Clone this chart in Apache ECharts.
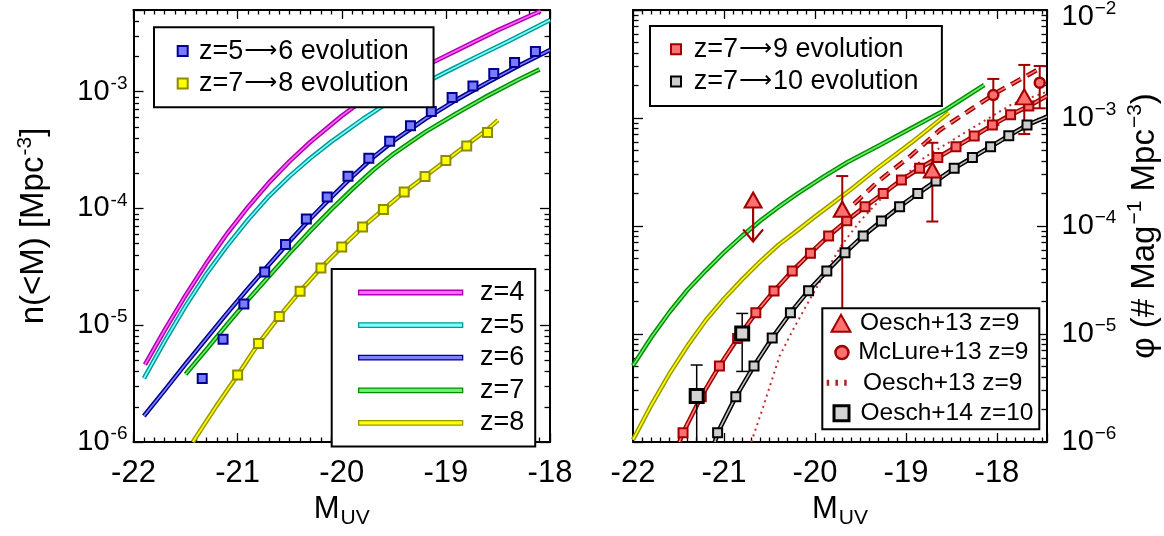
<!DOCTYPE html>
<html><head><meta charset="utf-8">
<script src="https://cdn.jsdelivr.net/npm/echarts@6/dist/echarts.min.js"></script>
<style>html,body{margin:0;padding:0;background:#fff}#c{width:1164px;height:536px}</style>
</head><body><div id="c"></div>
<script>
const FONT = '"Liberation Sans", Arial, Helvetica, sans-serif';
const ARROWFONT = '"DejaVu Sans", sans-serif';

// ---------- Left panel: n(<M) curves ----------
const mZ4 = [-21.89, -21.7, -21.5, -21.3, -21.1, -20.9, -20.7, -20.5, -20.3, -20.0, -19.8, -19.5, -19.1, -18.8, -18.5, -18.09];
const nZ4 = [4.6e-6, 9.1e-6, 1.8e-5, 3.4e-5, 6.1e-5, 1.03e-4, 1.66e-4, 2.54e-4, 3.72e-4, 6.2e-4, 8.4e-4, 1.25e-3, 1.83e-3, 2.48e-3, 3.36e-3, 4.9e-3];
const mZ5 = [-21.9, -21.7, -21.5, -21.3, -21.1, -20.9, -20.7, -20.5, -20.3, -20.1, -19.8, -19.6, -19.3, -19.0, -18.7, -18.4, -18.0];
const nZ5 = [3.5e-6, 7.3e-6, 1.46e-5, 2.75e-5, 4.8e-5, 8.0e-5, 1.27e-4, 1.89e-4, 2.7e-4, 3.73e-4, 5.8e-4, 7.6e-4, 1.07e-3, 1.47e-3, 2.0e-3, 2.7e-3, 4.1e-3];
const mZ6 = [-21.9, -21.7, -21.5, -21.3, -21.1, -20.9, -20.7, -20.5, -20.3, -20.1, -19.9, -19.7, -19.5, -19.2, -18.9, -18.6, -18.3, -18.0];
const nZ6 = [1.67e-6, 2.78e-6, 4.66e-6, 7.7e-6, 1.27e-5, 2.06e-5, 3.3e-5, 5.25e-5, 8.2e-5, 1.25e-4, 1.87e-4, 2.73e-4, 3.8e-4, 5.83e-4, 8.5e-4, 1.2e-3, 1.67e-3, 2.27e-3];
const mZ7 = [-21.5, -21.3, -21.1, -20.9, -20.7, -20.5, -20.3, -20.1, -19.9, -19.7, -19.5, -19.2, -18.9, -18.6, -18.3, -18.1];
const nZ7 = [3.8e-6, 6.2e-6, 1.02e-5, 1.65e-5, 2.62e-5, 4.15e-5, 6.45e-5, 9.8e-5, 1.46e-4, 2.12e-4, 2.95e-4, 4.5e-4, 6.5e-4, 9.2e-4, 1.27e-3, 1.55e-3];
const mZ8 = [-21.43, -21.2, -21.0, -20.8, -20.6, -20.4, -20.2, -20.0, -19.8, -19.6, -19.4, -19.2, -19.0, -18.8, -18.6, -18.5];
const nZ8 = [1.0e-6, 2.06e-6, 3.74e-6, 6.97e-6, 1.19e-5, 1.95e-5, 3.09e-5, 4.67e-5, 6.92e-5, 9.8e-5, 1.38e-4, 1.88e-4, 2.57e-4, 3.5e-4, 4.75e-4, 5.7e-4];
// evolution squares
const mEvo56 = [-21.34, -21.14, -20.94, -20.74, -20.54, -20.34, -20.14, -19.94, -19.74, -19.54, -19.34, -19.14, -18.94, -18.74, -18.54, -18.34, -18.14];
const nEvo56 = [3.5e-6, 7.6e-6, 1.52e-5, 2.86e-5, 4.92e-5, 8.1e-5, 1.25e-4, 1.89e-4, 2.69e-4, 3.76e-4, 5.1e-4, 6.75e-4, 8.9e-4, 1.12e-3, 1.43e-3, 1.78e-3, 2.21e-3];
const mEvo78 = [-21.0, -20.8, -20.6, -20.4, -20.2, -20.0, -19.8, -19.6, -19.4, -19.2, -19.0, -18.8, -18.6];
const nEvo78 = [3.74e-6, 6.97e-6, 1.19e-5, 1.95e-5, 3.09e-5, 4.67e-5, 6.92e-5, 9.8e-5, 1.38e-4, 1.88e-4, 2.57e-4, 3.43e-4, 4.46e-4];

// ---------- Right panel: phi(M) ----------
const mZ7r = [-22.0, -21.8, -21.6, -21.4, -21.2, -21.0, -20.8, -20.6, -20.4, -20.2, -19.9, -19.64, -19.3, -18.93, -18.56, -18.14];
const pZ7r = [5.1e-6, 9.3e-6, 1.59e-5, 2.57e-5, 3.87e-5, 5.7e-5, 8.1e-5, 1.12e-4, 1.5e-4, 1.97e-4, 2.88e-4, 3.92e-4, 5.54e-4, 8.15e-4, 1.2e-3, 2.02e-3];
const mZ8r = [-22.0, -21.8, -21.6, -21.4, -21.2, -21.0, -20.8, -20.6, -20.4, -20.2, -20.0, -19.8, -19.6, -19.3, -18.93, -18.53];
const pZ8r = [1.05e-6, 2.19e-6, 4.28e-6, 7.8e-6, 1.34e-5, 2.12e-5, 3.2e-5, 4.7e-5, 6.7e-5, 9.0e-5, 1.22e-4, 1.64e-4, 2.2e-4, 3.5e-4, 6.0e-4, 1.12e-3];
const mEvo79 = [-21.45, -21.25, -21.05, -20.85, -20.65, -20.45, -20.25, -20.05, -19.85, -19.65, -19.45, -19.25, -19.05, -18.85, -18.65, -18.45, -18.25, -18.05, -17.85, -17.65];
const pEvo79 = [1.22e-6, 2.63e-6, 5.06e-6, 9.1e-6, 1.57e-5, 2.5e-5, 3.83e-5, 5.6e-5, 8.1e-5, 1.12e-4, 1.51e-4, 2.0e-4, 2.67e-4, 3.42e-4, 4.3e-4, 5.42e-4, 6.8e-4, 8.6e-4, 1.07e-3, 1.29e-3];
const evo79Ends = [[-21.49, 1.0e-6], [-17.45, 1.6e-3]];
const mEvo710 = [-21.07, -20.87, -20.67, -20.47, -20.27, -20.07, -19.87, -19.67, -19.47, -19.27, -19.07, -18.87, -18.67, -18.47, -18.27, -18.07, -17.87, -17.67];
const pEvo710 = [1.22e-6, 2.63e-6, 5.06e-6, 9.2e-6, 1.57e-5, 2.52e-5, 3.83e-5, 5.66e-5, 8.1e-5, 1.11e-4, 1.51e-4, 2.0e-4, 2.61e-4, 3.42e-4, 4.3e-4, 5.42e-4, 6.85e-4, 8.6e-4];
const evo710Ends = [[-21.10, 1.0e-6], [-17.45, 1.03e-3]];
// fits
const mMcFit = [-19.57, -19.31, -18.95, -18.63, -18.3, -18.0, -17.52];
const pMcFit = [1.6e-4, 2.57e-4, 4.45e-4, 7.7e-4, 1.18e-3, 1.73e-3, 2.9e-3];
const mOeFit = [-20.70, -20.57, -20.39, -20.24, -20.10, -19.95, -19.70, -19.50, -19.30, -18.80, -18.30, -17.83, -17.45];
const pOeFit = [1.0e-6, 2.1e-6, 6.2e-6, 1.1e-5, 1.8e-5, 3.0e-5, 6.8e-5, 1.12e-4, 1.7e-4, 4.3e-4, 7.8e-4, 1.35e-3, 1.75e-3];
// observations
const mOe13 = [-19.70, -18.71, -17.70];
const pOe13 = [1.43e-4, 3.3e-4, 1.57e-3];
const loOe13 = [5.0e-6, 1.1e-4, 7.1e-4];
const hiOe13 = [2.9e-4, 5.9e-4, 3.1e-3];
const mOe13lim = [-20.68];
const pOe13lim = [1.74e-4];
const arrowTo = [7.2e-5];
const mMc13 = [-18.04, -17.53];
const pMc13 = [1.63e-3, 2.12e-3];
const loMc13 = [8.6e-4, 1.23e-3];
const hiMc13 = [2.3e-3, 3.03e-3];
const mOe14 = [-21.30, -20.80];
const pOe14 = [2.67e-6, 1.01e-5];
const loOe14 = [1.0e-7, 4.5e-6];
const hiOe14 = [5.16e-6, 1.55e-5];

const xTicksLabels = [-22, -21, -20, -19, -18];

// ---------- helpers ----------
const zip = (xs, ys) => xs.map((x, i) => [x, ys[i]]);
const zip3 = (xs, a, b) => xs.map((x, i) => [x, a[i], b[i]]);

function minorX(lo, hi) {
  const v = [];
  for (let k = 1; lo + k * 0.1 < hi - 1e-9; k++) if (k % 10) v.push(+(lo + k * 0.1).toFixed(2));
  return v;
}
function minorY(lo, hi) {
  const v = [];
  for (let e = -7; e <= -2; e++) for (let m = 2; m <= 9; m++) {
    const l = e + Math.log10(m);
    if (l > lo + 1e-9 && l < hi - 1e-9) v.push(l);
  }
  return v;
}
const tickLine = { color: '#000', width: 1.3 };

function xMajor(gi, pos, max, show) {
  return {
    type: 'value', gridIndex: gi, position: pos, min: -22, max: max, interval: 1,
    axisLine: { show: true, onZero: false, lineStyle: { color: '#000', width: 2 } },
    axisTick: { show: true, inside: true, length: 9, lineStyle: tickLine },
    minorTick: { show: false }, splitLine: { show: false },
    axisLabel: { show: show, margin: 16, color: '#000', fontSize: 31, fontFamily: FONT,
      formatter: v => xTicksLabels.indexOf(v) >= 0 ? String(v) : '' },
    name: show ? '{m|M}{u|UV}' : '', nameLocation: 'middle', nameGap: 48, nameMoveOverlap: false,
    nameTextStyle: { color: '#000', fontFamily: FONT,
      rich: { m: { fontSize: 31, fontFamily: FONT, color: '#000' },
              u: { fontSize: 21, fontFamily: FONT, color: '#000', padding: [18, 0, 0, 1] } } }
  };
}
function xMinor(gi, pos, max) {
  return {
    type: 'value', gridIndex: gi, position: pos, min: -22, max: max,
    axisLine: { show: false, onZero: false }, axisLabel: { show: false }, splitLine: { show: false },
    axisTick: { show: true, inside: true, length: 4.5, customValues: minorX(-22, max), lineStyle: tickLine }
  };
}
function logLabel(minus, topVal) {
  return v => {
    const l = Math.log10(v), e = Math.round(l);
    if (Math.abs(l - e) > 1e-6) return '';
    if (topVal && Math.abs(l - Math.log10(topVal)) < 1e-6) return '{bt|10}{st|' + minus + (-e) + '}';
    return '{b|10}{s|' + minus + (-e) + '}';
  };
}
function yMajor(gi, pos, max, show, minus, margin, name, nameGap) {
  return {
    type: 'log', logBase: 10, gridIndex: gi, position: pos, min: 1e-6, max: max,
    axisLine: { show: true, onZero: false, lineStyle: { color: '#000', width: 2 } },
    axisTick: { show: true, inside: true, length: 10, lineStyle: tickLine },
    minorTick: { show: false }, splitLine: { show: false },
    axisLabel: { show: show, margin: margin, color: '#000', fontFamily: FONT, formatter: logLabel(minus, max),
      rich: { b: { fontSize: 29, fontFamily: FONT, color: '#000' },
              s: { fontSize: 19, fontFamily: FONT, color: '#000', padding: [0, 0, 16, 1] },
              bt: { fontSize: 29, fontFamily: FONT, color: '#000', padding: [14, 0, 0, 0] },
              st: { fontSize: 19, fontFamily: FONT, color: '#000', padding: [0, 0, 2, 1] } } },
    name: name || '', nameLocation: 'middle', nameRotate: 90, nameGap: nameGap || 0, nameMoveOverlap: false,
    nameTextStyle: { color: '#000', fontFamily: FONT,
      rich: { a: { fontSize: 33, fontFamily: FONT, color: '#000' },
              s: { fontSize: 21, fontFamily: FONT, color: '#000', padding: [0, 0, 18, 1] } } }
  };
}
function yMinor(gi, pos, lmax) {
  return {
    type: 'value', gridIndex: gi, position: pos, min: -6, max: lmax,
    axisLine: { show: false, onZero: false }, axisLabel: { show: false }, splitLine: { show: false },
    axisTick: { show: true, inside: true, length: 5.5, customValues: minorY(-6, lmax), lineStyle: tickLine }
  };
}

function doubleLine(name, data, outer, inner, xi, yi, dash) {
  const common = { type: 'line', xAxisIndex: xi, yAxisIndex: yi, data: data, symbol: 'none', showSymbol: false,
    smooth: false, silent: true, z: 2 };
  return [
    Object.assign({}, common, { name: name, lineStyle: { color: outer, width: 4.6, type: dash || 'solid', join: 'round' }, itemStyle: { color: outer } }),
    Object.assign({}, common, { name: name + ' inner', lineStyle: { color: inner, width: 1.6, type: dash || 'solid', join: 'round' }, itemStyle: { color: inner } })
  ];
}
function scatter(name, data, xi, yi, symbol, size, fill, border, bw, z) {
  return { type: 'scatter', name: name, xAxisIndex: xi, yAxisIndex: yi, data: data, symbol: symbol, symbolSize: size,
    itemStyle: { color: fill, borderColor: border, borderWidth: bw, opacity: 1 }, silent: true, z: z || 4 };
}
function errBars(name, data, xi, yi, color, lw, cap) {
  return {
    type: 'custom', name: name, xAxisIndex: xi, yAxisIndex: yi, data: data, clip: true, silent: true, z: 3,
    encode: { x: 0, y: [1, 2] },
    renderItem: (params, api) => {
      const x = api.value(0);
      const a = api.coord([x, api.value(1)]);
      const b = api.coord([x, api.value(2)]);
      const st = { stroke: color, lineWidth: lw, fill: null };
      return { type: 'group', children: [
        { type: 'line', shape: { x1: a[0], y1: a[1], x2: b[0], y2: b[1] }, style: st },
        { type: 'line', shape: { x1: a[0] - cap, y1: a[1], x2: a[0] + cap, y2: a[1] }, style: st },
        { type: 'line', shape: { x1: b[0] - cap, y1: b[1], x2: b[0] + cap, y2: b[1] }, style: st }
      ] };
    }
  };
}
function arrowLimit(name, data, xi, yi, color) {
  return {
    type: 'custom', name: name, xAxisIndex: xi, yAxisIndex: yi, data: data, clip: true, silent: true, z: 3,
    encode: { x: 0, y: [1, 2] },
    renderItem: (params, api) => {
      const x = api.value(0);
      const a = api.coord([x, api.value(1)]);
      const b = api.coord([x, api.value(2)]);
      const st = { stroke: color, lineWidth: 2.2, fill: null };
      return { type: 'group', children: [
        { type: 'line', shape: { x1: a[0], y1: a[1], x2: b[0], y2: b[1] }, style: st },
        { type: 'polyline', shape: { points: [[b[0] - 10, b[1] - 12], [b[0], b[1]], [b[0] + 10, b[1] - 12]] }, style: st }
      ] };
    }
  };
}

// ---------- colours ----------
const C = {
  z4: ['#b000b0', '#ff66ff'], z5: ['#009a9a', '#80ffff'], z6: ['#00008b', '#8080ff'],
  z7: ['#009000', '#70ee70'], z8: ['#9a9a00', '#ffff00'],
  red: ['#a00000', '#ff7f7f'], blk: ['#000000', '#c0c0c0']
};
const DR = '#a00000', PINK = '#ff7070';

const series = [].concat(
  doubleLine('z=4', zip(mZ4, nZ4), C.z4[0], C.z4[1], 0, 0),
  doubleLine('z=5', zip(mZ5, nZ5), C.z5[0], C.z5[1], 0, 0),
  doubleLine('z=6', zip(mZ6, nZ6), C.z6[0], C.z6[1], 0, 0),
  doubleLine('z=7', zip(mZ7, nZ7), C.z7[0], C.z7[1], 0, 0),
  doubleLine('z=8', zip(mZ8, nZ8), C.z8[0], C.z8[1], 0, 0),
  [scatter('z=5→6 evolution', zip(mEvo56, nEvo56), 0, 0, 'rect', 9, '#7b7bff', '#000090', 2),
   scatter('z=7→8 evolution', zip(mEvo78, nEvo78), 0, 0, 'rect', 9, '#ffff00', '#8c8c00', 2)],
  doubleLine('z=7 right', zip(mZ7r, pZ7r), C.z7[0], C.z7[1], 4, 4),
  doubleLine('z=8 right', zip(mZ8r, pZ8r), C.z8[0], C.z8[1], 4, 4),
  [{ type: 'line', name: 'Oesch+13 fit', xAxisIndex: 4, yAxisIndex: 4, data: zip(mOeFit, pOeFit), symbol: 'none',
     smooth: false, silent: true, z: 2, lineStyle: { color: '#c03030', width: 2, type: [2, 4] }, itemStyle: { color: '#c03030' } }],
  doubleLine('McLure fit', zip(mMcFit, pMcFit), C.red[0], C.red[1], 4, 4, [11, 7]),
  doubleLine('z=7→9 line', [evo79Ends[0]].concat(zip(mEvo79, pEvo79), [evo79Ends[1]]), C.red[0], C.red[1], 4, 4),
  doubleLine('z=7→10 line', [evo710Ends[0]].concat(zip(mEvo710, pEvo710), [evo710Ends[1]]), C.blk[0], C.blk[1], 4, 4),
  [scatter('z=7→9 evolution', zip(mEvo79, pEvo79), 4, 4, 'rect', 9, PINK, DR, 2),
   scatter('z=7→10 evolution', zip(mEvo710, pEvo710), 4, 4, 'rect', 9, '#cccccc', '#000', 2),
   errBars('Oesch13 err', zip3(mOe13, loOe13, hiOe13), 4, 4, DR, 2, 6),
   errBars('McLure13 err', zip3(mMc13, loMc13, hiMc13), 4, 4, DR, 2, 6),
   errBars('Oesch14 err', zip3(mOe14, loOe14, hiOe14), 4, 4, '#000', 1.5, 6),
   arrowLimit('Oesch13 limit', zip3(mOe13lim, pOe13lim, arrowTo), 4, 4, DR),
   scatter('Oesch+13 z=9', zip(mOe13.concat(mOe13lim), pOe13.concat(pOe13lim)), 4, 4, 'triangle', [17, 15], PINK, DR, 2, 5),
   scatter('McLure+13 z=9', zip(mMc13, pMc13), 4, 4, 'circle', 10, PINK, DR, 2.5, 5),
   scatter('Oesch+14 z=10', zip(mOe14, pOe14), 4, 4, 'rect', 13, '#d3d3d3', '#000', 3, 5)]
);

const legendText = (size, pad) => ({ fontSize: size, fontFamily: FONT, color: '#000', lineHeight: 22, padding: [0, 0, 0, pad],
  rich: { t: { fontSize: size, fontFamily: FONT, color: '#000', lineHeight: 22 },
          r: { fontSize: 23, fontFamily: ARROWFONT, color: '#000', lineHeight: 22, padding: [0, 1, 0, 1] } } });
const arrowFmt = name => {
  const i = name.indexOf('→');
  if (i < 0) return name;
  return '{t|' + name.slice(0, i) + '}{r|\u27f6}{t|' + name.slice(i + 1) + '}';
};
const sq = (name, fill, border) => ({ name: name, icon: 'rect', itemStyle: { color: fill, borderColor: border, borderWidth: 2 } });
const bar = (name, c) => ({ name: name, icon: 'rect', itemStyle: { color: c[1], borderColor: c[0], borderWidth: 1.3 } });

const legends = [
  { left: 154, top: 27.3, orient: 'vertical', selectedMode: false, z: 6,
    padding: [10.3, 24.7, 10.3, 22.7], itemGap: 5.4, itemWidth: 10, itemHeight: 10,
    backgroundColor: '#fff', borderColor: '#000', borderWidth: 2, textStyle: legendText(27, 6.3), formatter: arrowFmt,
    data: [sq('z=5→6 evolution', '#7b7bff', '#000090'), sq('z=7→8 evolution', '#ffff00', '#8c8c00')] },
  { left: 331.7, top: 269, orient: 'vertical', selectedMode: false, z: 6,
    padding: [10, 11, 10, 26.3], itemGap: 5.6, itemWidth: 104, itemHeight: 4.5,
    backgroundColor: '#fff', borderColor: '#000', borderWidth: 2, textStyle: legendText(27, 12.3),
    data: [bar('z=4', C.z4), bar('z=5', C.z5), bar('z=6', C.z6), bar('z=7', C.z7), bar('z=8', C.z8)] },
  { left: 650, top: 26, orient: 'vertical', selectedMode: false, z: 6,
    padding: [9.7, 23.3, 11, 20], itemGap: 5.3, itemWidth: 10, itemHeight: 10,
    backgroundColor: '#fff', borderColor: '#000', borderWidth: 2, textStyle: legendText(27, 7.7), formatter: arrowFmt,
    data: [sq('z=7→9 evolution', PINK, DR), sq('z=7→10 evolution', '#cccccc', '#000')] },
  { left: 830.5, top: 310.7, padding: 0, selectedMode: false, z: 6, itemWidth: 19, itemHeight: 17,
    textStyle: legendText(24.5, 4.5),
    data: [{ name: 'Oesch+13 z=9', icon: 'triangle', itemStyle: { color: PINK, borderColor: DR, borderWidth: 2 } }] },
  { left: 834.2, top: 340, padding: 0, selectedMode: false, z: 6, itemWidth: 13, itemHeight: 13,
    textStyle: legendText(24.5, 4.8),
    data: [{ name: 'McLure+13 z=9', icon: 'circle', itemStyle: { color: PINK, borderColor: DR, borderWidth: 2.5 } }] },
  { left: 826.7, top: 370.3, padding: 0, selectedMode: false, z: 6, itemWidth: 20, itemHeight: 6,
    textStyle: legendText(24.5, 11.3), formatter: () => 'Oesch+13 z=9',
    data: [{ name: 'Oesch+13 fit', icon: 'path://M0,0h2.5v6h-2.5z M8.75,0h2.5v6h-2.5z M17.5,0h2.5v6h-2.5z',
             itemStyle: { color: '#b02020', borderWidth: 0 } }] },
  { left: 832.5, top: 400.7, padding: 0, selectedMode: false, z: 6, itemWidth: 15, itemHeight: 15,
    textStyle: legendText(24.5, 6.5),
    data: [{ name: 'Oesch+14 z=10', icon: 'rect', itemStyle: { color: '#d3d3d3', borderColor: '#000', borderWidth: 3 } }] }
];

const option = {
  animation: false,
  backgroundColor: '#fff',
  textStyle: { fontFamily: FONT },
  grid: [
    { left: 133.5, top: 10, width: 416.5, height: 432, outerBoundsMode: 'none', containLabel: false },
    { left: 633, top: 10, width: 414, height: 432, outerBoundsMode: 'none', containLabel: false }
  ],
  xAxis: [
    xMajor(0, 'bottom', -18, true), xMajor(0, 'top', -18, false), xMinor(0, 'bottom', -18), xMinor(0, 'top', -18),
    xMajor(1, 'bottom', -17.45, true), xMajor(1, 'top', -17.45, false), xMinor(1, 'bottom', -17.45), xMinor(1, 'top', -17.45)
  ],
  yAxis: [
    yMajor(0, 'left', 5e-3, true, '-', 6, '{a|n(<M) [Mpc}{s|-3}{a|]}', 80),
    yMajor(0, 'right', 5e-3, false, '-', 6),
    yMinor(0, 'left', Math.log10(5e-3)), yMinor(0, 'right', Math.log10(5e-3)),
    yMajor(1, 'right', 1e-2, true, '\u2212', 14.5, '{a|\u03c6 (# Mag}{s|\u22121}{a| Mpc}{s|\u22123}{a|)}', 78),
    yMajor(1, 'left', 1e-2, false, '-', 6),
    yMinor(1, 'left', -2), yMinor(1, 'right', -2)
  ],
  legend: legends,
  graphic: { elements: [
    { type: 'rect', z: 5, shape: { x: 822.3, y: 308.3, width: 217, height: 121 },
      style: { fill: '#fff', stroke: '#000', lineWidth: 2 } }
  ] },
  series: series
};

const chart = echarts.init(document.getElementById('c'), null, { renderer: 'canvas' });
chart.setOption(option);
</script></body></html>
